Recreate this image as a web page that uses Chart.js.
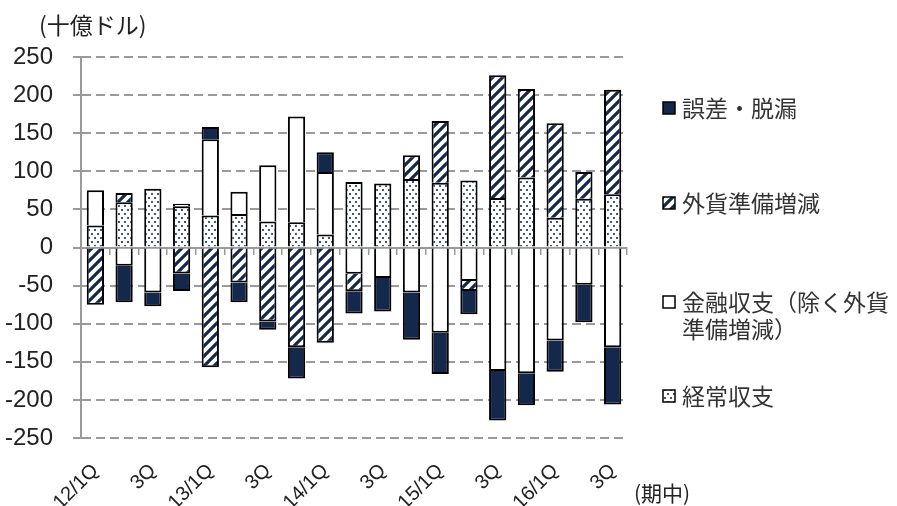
<!DOCTYPE html>
<html>
<head>
<meta charset="utf-8">
<script src="https://cdn.jsdelivr.net/npm/chart.js@4/dist/chart.umd.min.js"></script>
<style>
html, body { margin: 0; padding: 0; background: #fff; }
</style>
</head>
<body>
<canvas id="chart" width="897" height="506"></canvas>
<script>
// quarters, 2012Q1 - 2016Q3
const categories = ['12/1Q','2Q','3Q','4Q','13/1Q','2Q','3Q','4Q','14/1Q','2Q','3Q','4Q','15/1Q','2Q','3Q','4Q','16/1Q','2Q','3Q'];

// 十億ドル
const currentAccount = [29, 59.5, 77, 54, 42, 44, 34, 33, 17, 86, 84, 90, 85, 88, 65, 92, 39, 64, 70];
const financialExRes = [46, -24, -59, 3.5, 100, 29, 74, 139, 82, -34.5, -40, -59, -112, -44, -162, -165, -122, -49, -131];
const reserveChange  = [-75, 12, 0, -34, -157, -46, -97, -131, -125, -23, 0, 31, 81, -13, 161, 116, 124, 35, 137];
const errorsOmissions = [0, -48, -18, -23, 16, -26, -11, -41, 26, -29, -44, -62, -54, -30.5, -65, -42, -41, -49, -75];

const yMin = -250, yMax = 250, yStep = 50;

const NAVY = '#13284a';
const GRID = '#9a9a9a';

function hatchPattern() {
	const c = document.createElement('canvas');
	c.width = 10; c.height = 10;
	const g = c.getContext('2d');
	g.fillStyle = '#fff';
	g.fillRect(0, 0, 10, 10);
	g.strokeStyle = NAVY;
	g.lineWidth = 3.2;
	g.beginPath();
	g.moveTo(-5, 5); g.lineTo(5, -5);
	g.moveTo(0, 10); g.lineTo(10, 0);
	g.moveTo(5, 15); g.lineTo(15, 5);
	g.stroke();
	return g.createPattern(c, 'repeat');
}

function dotPattern() {
	const c = document.createElement('canvas');
	c.width = 6; c.height = 8;
	const g = c.getContext('2d');
	g.fillStyle = '#fff';
	g.fillRect(0, 0, 6, 8);
	g.fillStyle = '#44557a';
	g.fillRect(1, 1, 2, 2);
	g.fillRect(4, 5, 2, 2);
	return g.createPattern(c, 'repeat');
}

const hatch = hatchPattern();
const dots = dotPattern();

const legendItems = [
	{ lines: ['誤差・脱漏'], fill: NAVY, y: 108 },
	{ lines: ['外貨準備増減'], fill: hatch, y: 203 },
	{ lines: ['金融収支（除く外貨', '準備増減）'], fill: '#fff', y: 302 },
	{ lines: ['経常収支'], fill: dots, y: 396 }
];

const sideText = {
	id: 'sideText',
	afterDraw(chart) {
		const ctx = chart.ctx;
		ctx.save();
		ctx.fillStyle = '#222';
		ctx.textBaseline = 'middle';
		ctx.font = '23px "Noto Sans CJK JP"';
		ctx.fillText('(十億ドル)', 39, 25);
		ctx.font = '21px "Noto Sans CJK JP"';
		ctx.fillText('(期中)', 634, 493);

		ctx.font = '23px "Noto Sans CJK JP"';
		legendItems.forEach(it => {
			ctx.fillStyle = it.fill;
			ctx.fillRect(663, it.y - 6, 12, 12);
			ctx.strokeStyle = '#000';
			ctx.lineWidth = 1.5;
			ctx.strokeRect(663, it.y - 6, 12, 12);
			ctx.fillStyle = '#333';
			it.lines.forEach((t, i) => ctx.fillText(t, 682, it.y + i * 27));
		});
		ctx.restore();
	}
};

const common = { borderColor: '#000', borderWidth: 2, barPercentage: 0.6, categoryPercentage: 1, xAxisID: 'x' };

new Chart(document.getElementById('chart'), {
	type: 'bar',
	data: {
		labels: categories,
		datasets: [
			Object.assign({ label: '経常収支', data: currentAccount, backgroundColor: dots }, common),
			Object.assign({ label: '金融収支（除く外貨準備増減）', data: financialExRes, backgroundColor: '#fff' }, common),
			Object.assign({ label: '外貨準備増減', data: reserveChange, backgroundColor: hatch }, common),
			Object.assign({ label: '誤差・脱漏', data: errorsOmissions, backgroundColor: NAVY }, common)
		]
	},
	options: {
		responsive: false,
		devicePixelRatio: 1,
		animation: false,
		layout: { padding: { top: 57, right: 270, left: 0, bottom: 0 } },
		plugins: { legend: { display: false }, tooltip: { enabled: false } },
		scales: {
			x: {
				stacked: true,
				position: 'bottom',
				grid: { display: false },
				border: { display: false },
				ticks: {
					autoSkip: false,
					minRotation: 45,
					maxRotation: 45,
					padding: 13,
					color: '#222',
					font: { family: '"Liberation Sans", Arial', size: 20 },
					callback: (v, i) => (i % 2 === 0 ? categories[i] : '')
				},
				afterFit: s => { s.height = 68; }
			},
			x2: {
				type: 'category',
				labels: categories,
				position: { y: 0 },
				offset: true,
				grid: { offset: true, drawOnChartArea: false, tickLength: 6, color: GRID, lineWidth: 1.5 },
				border: { color: GRID, width: 2 },
				ticks: { display: false }
			},
			y: {
				stacked: true,
				min: yMin,
				max: yMax,
				ticks: {
					stepSize: yStep,
					padding: 20,
					color: '#222',
					font: { family: '"Liberation Sans Narrow", "Liberation Sans", Arial', size: 24 }
				},
				grid: { color: GRID, lineWidth: 2, tickLength: 8 },
				border: { color: GRID, width: 2, dash: [9, 5] },
				afterFit: s => { s.width = 81; }
			}
		}
	},
	plugins: [sideText]
});
</script>
</body>
</html>
